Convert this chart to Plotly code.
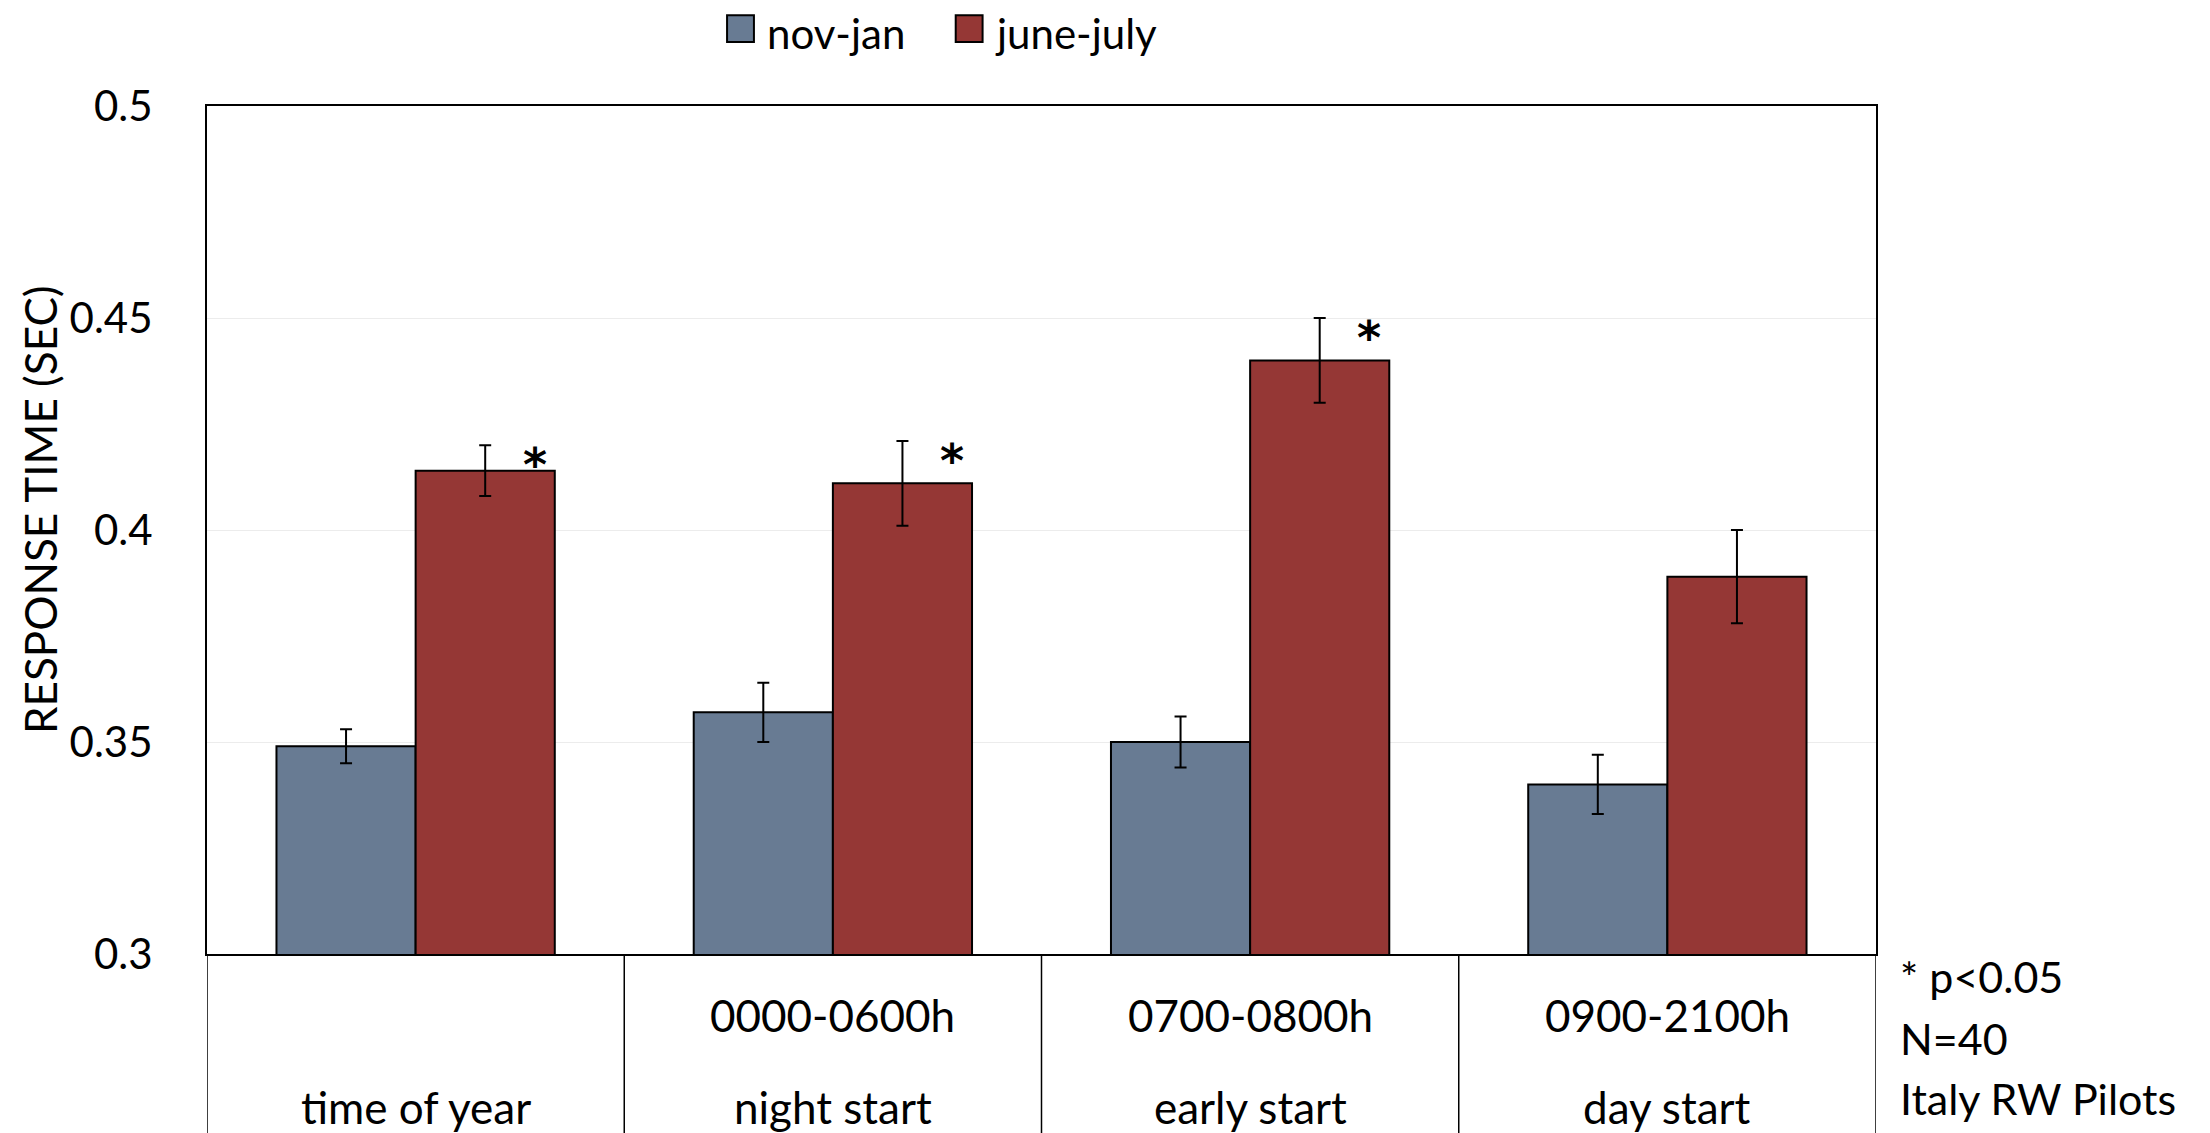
import plotly.graph_objects as go

# ---- data ----
period_labels = ["", "0000-0600h", "0700-0800h", "0900-2100h"]
group_labels = ["time of year", "night start", "early start", "day start"]
series_names = ["nov-jan", "june-july"]
nov_jan = [0.349, 0.357, 0.350, 0.340]
nov_jan_err = [0.004, 0.007, 0.006, 0.007]
june_july = [0.414, 0.411, 0.440, 0.389]
june_july_err = [0.006, 0.010, 0.010, 0.011]
significant = [True, True, True, False]
y_ticks = [0.3, 0.35, 0.4, 0.45, 0.5]
y_tick_text = ["0.3", "0.35", "0.4", "0.45", "0.5"]
notes = ["* p<0.05", "N=40", "Italy RW Pilots"]

colors = ["#687b93", "#953735"]
FONT = "Lato"
x_pos = list(range(len(group_labels)))

fig = go.Figure()
for name, vals, errs, col in [
    (series_names[0], nov_jan, nov_jan_err, colors[0]),
    (series_names[1], june_july, june_july_err, colors[1]),
]:
    fig.add_trace(go.Bar(
        x=x_pos, y=vals, name=name,
        marker=dict(color=col, line=dict(color="black", width=2)),
        error_y=dict(type="data", array=errs, color="black", thickness=2, width=6),
        showlegend=False,
    ))

# asterisks
for i, s in enumerate(significant):
    if s:
        fig.add_annotation(x=x_pos[i] + 0.286, y=june_july[i] + june_july_err[i],
                           xref="x", yref="y", text="<b>*</b>", showarrow=False,
                           font=dict(size=46, family="DejaVu Sans", color="black"),
                           yanchor="middle", yshift=-20)

# category table below axis
shapes = []
for b in [-0.5, 0.5, 1.5, 2.5, 3.5]:
    shapes.append(dict(type="line", xref="x", yref="paper", x0=b, x1=b, y0=0, y1=-0.3,
                       line=dict(color="black", width=1.5)))
for i in x_pos:
    if period_labels[i]:
        fig.add_annotation(x=i, y=-0.072, xref="x", yref="paper", text=period_labels[i],
                           showarrow=False, font=dict(size=44, family=FONT, color="black"),
                           yanchor="middle")
    fig.add_annotation(x=i, y=-0.180, xref="x", yref="paper", text=group_labels[i],
                       showarrow=False, font=dict(size=44, family=FONT, color="black"),
                       yanchor="middle")

# notes
for txt, yy in zip(notes, [-0.027, -0.100, -0.170]):
    fig.add_annotation(x=1.013, y=yy, xref="paper", yref="paper", text=txt, showarrow=False,
                       xanchor="left", yanchor="middle",
                       font=dict(size=43, family=FONT, color="black"))

# manual legend
leg_x = [0.3116, 0.4486]
for name, col, lx in zip(series_names, colors, leg_x):
    shapes.append(dict(type="rect", xref="paper", yref="paper", x0=lx, x1=lx + 0.0161,
                       y0=1.0754, y1=1.107, fillcolor=col, line=dict(color="black", width=2)))
    fig.add_annotation(x=lx + 0.0225, y=1.086, xref="paper", yref="paper", text=name,
                       showarrow=False, xanchor="left", yanchor="middle",
                       font=dict(size=42, family=FONT, color="black"))

# y title
fig.add_annotation(x=-0.1004, y=0.524, xref="paper", yref="paper", text="RESPONSE TIME (SEC)",
                   textangle=-90, showarrow=False, xanchor="center", yanchor="middle",
                   font=dict(size=44, family=FONT, color="black"))

# page body has an 8px margin: size the figure so it lands on the window exactly
fig.update_layout(
    width=2202, height=1125,
    margin=dict(l=199, r=334, t=98, b=179),
    plot_bgcolor="white", paper_bgcolor="white",
    barmode="group", bargap=0.333, bargroupgap=0,
    font=dict(family=FONT, size=42, color="black"),
    shapes=shapes,
    showlegend=False,
)
fig.update_xaxes(range=[-0.5, 3.5], showticklabels=False, showgrid=False, zeroline=False,
                 showline=True, linecolor="black", linewidth=2, mirror=True, ticks="")
fig.update_yaxes(range=[0.3, 0.5], tickvals=y_ticks, ticktext=y_tick_text,
                 showgrid=True, gridcolor="#ececec", gridwidth=1, zeroline=False,
                 showline=True, linecolor="black", linewidth=2, mirror=True, ticks="",
                 ticklabelstandoff=44, tickfont=dict(size=42, family=FONT))

fig.write_html("out.html")
